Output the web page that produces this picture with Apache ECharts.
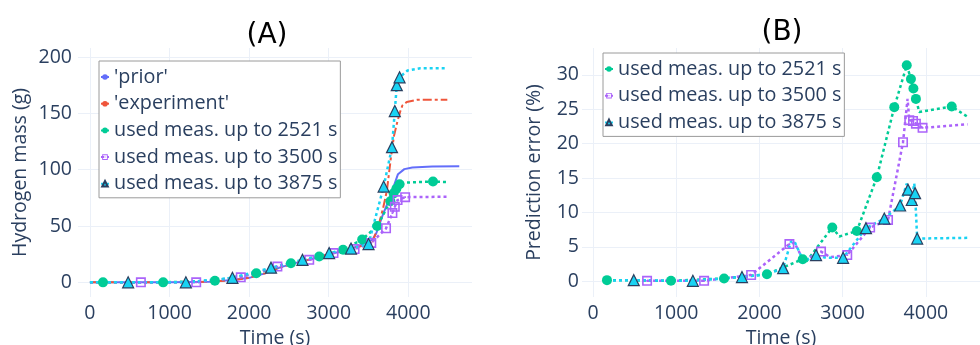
<!DOCTYPE html>
<html><head><meta charset="utf-8">
<script src="https://cdn.jsdelivr.net/npm/echarts@6/dist/echarts.min.js"></script>
<style>html,body{margin:0;padding:0;background:#fff}#c{width:980px;height:345px}</style>
</head><body><div id="c"></div>
<script>
// ---------- names ----------
const N_PRIOR = "'prior'";
const N_EXP = "'experiment'";
const N_G = "used meas. up to 2521 s";
const N_P = "used meas. up to 3500 s";
const N_C = "used meas. up to 3875 s";

// ---------- tick labels ----------
const xTicks = [0, 1000, 2000, 3000, 4000];
const yTicksA = [0, 50, 100, 150, 200];
const yTicksB = [0, 5, 10, 15, 20, 25, 30];

// ---------- chart (A): hydrogen mass (g) vs time (s) ----------
const A_prior_t = [0,500,1000,1500,1800,2000,2200,2400,2600,2800,3000,3200,3400,3500,3550,3600,3680,3750,3810,3870,3950,4050,4300,4640];
const A_prior_v = [0,0,0,0.5,2,4,8,13.5,17.5,21,25,28,33,36,38,44,60,72,84,96,100.5,102,102.8,103];

const A_exp_t = [0,500,1000,1500,1800,2000,2200,2400,2600,2800,3000,3200,3400,3500,3550,3620,3680,3730,3780,3820,3860,3900,3925,3980,4110,4490];
const A_exp_v = [0,0,0,0.5,2,4,8,13.5,17.5,21,25,28,32,34,36,49,65,81,110,130,142,152,157,160,162,162];

const A_g_t = [0,164,920,1570,2090,2525,2880,3180,3420,3610,3775,3815,3850,3890,3950,4310,4490];
const A_g_v = [0,0,0,1.5,8,17,23,29,38,50,72,79,83,87,88.5,89.5,89];
const A_g_m = [0,1,1,1,1,1,1,1,1,1,1,1,1,1,0,1,0];

const A_p_t = [0,640,1335,1895,2355,2755,3060,3325,3535,3720,3800,3830,3865,3960,4490];
const A_p_v = [0,0,0,4.5,14,20,26,29.5,35,48,61.5,67,73,75.6,76];
const A_p_m = [0,1,1,1,1,1,1,1,1,1,1,1,1,1,0];

const A_c_t = [0,480,1205,1790,2275,2670,3005,3280,3500,3690,3795,3830,3855,3890,3990,4150,4490];
const A_c_v = [0,0,0,4,13,20,26,30,34,85,120,152,175,182,188,190,190];
const A_c_m = [0,1,1,1,1,1,1,1,1,1,1,1,1,1,0,0,0];

// ---------- chart (B): prediction error (%) vs time (s) ----------
const B_g_t = [168,937,1575,2090,2520,2560,2875,2960,3170,3410,3620,3770,3820,3850,3880,3920,4310,4500];
const B_g_v = [0.15,0.05,0.4,1.0,3.2,2.8,7.8,6.5,7.3,15.1,25.3,31.4,29.4,28.0,26.5,24.6,25.4,23.9];
const B_g_m = [1,1,1,1,1,0,1,0,1,1,1,1,1,1,1,0,1,0];

const B_p_t = [650,1335,1900,2360,2420,2530,2740,2850,3055,3330,3545,3725,3780,3800,3845,3880,3960,4500];
const B_p_v = [0.05,0.05,0.9,5.4,5.6,3.0,4.3,3.5,3.8,7.8,8.9,20.2,26.5,23.4,23.3,22.9,22.3,22.8];
const B_p_m = [1,1,1,1,0,0,1,0,1,1,1,1,0,1,1,1,1,0];

const B_c_t = [168,490,1200,1790,2090,2285,2380,2420,2530,2680,2800,3005,3280,3500,3690,3770,3785,3830,3860,3870,3895,4500];
const B_c_v = [0.1,0.15,0.05,0.6,1.0,1.9,5.8,5.8,2.9,3.8,3.4,3.4,7.7,9.1,11.0,14.2,13.3,11.8,14.2,12.8,6.2,6.3];
const B_c_m = [0,1,1,1,0,1,0,0,0,1,0,1,1,1,1,0,1,1,0,1,1,0];

// ---------- style ----------
const TXT = '#2a3f5f';
const FONT = 'Open Sans';
const GRID = '#ebf0f8';
const C_BLUE = '#636efa', C_RED = '#ef553b', C_GREEN = '#00cc96', C_PURPLE = '#ab63fa', C_CYAN = '#19d3f3';
const SQ = 'path://M0,0H10V10H0Z M1.6,1.6V8.4H8.4V1.6Z M4.1,4.1H5.9V5.9H4.1Z';

function pts(t, v, m) {
  return t.map((x, i) => (m && !m[i]) ? { value: [x, v[i]], symbol: 'none' } : [x, v[i]]);
}
function lineS(name, gi, data, color, type, width) {
  return { name, type: 'line', xAxisIndex: gi, yAxisIndex: gi, data, symbol: 'none',
    lineStyle: { color, type, width }, itemStyle: { color }, animation: false };
}
function markS(name, gi, data, color, symbol, size, itemStyle) {
  return { name, type: 'line', xAxisIndex: gi, yAxisIndex: gi, data, symbol, symbolSize: size,
    showSymbol: true, lineStyle: { color, type: [3, 3], width: 2.5 },
    itemStyle: Object.assign({ color }, itemStyle || {}), animation: false };
}
const triStyle = { color: C_CYAN, borderColor: TXT, borderWidth: 1.2 };
const fmt = v => String(v);

function xAx(gi, min, max) {
  return { gridIndex: gi, type: 'value', min, max, name: 'Time (s)', nameLocation: 'middle', nameGap: 31,
    nameTextStyle: { fontSize: 19.5, color: TXT, fontFamily: FONT },
    axisLine: { show: false }, axisTick: { show: false, customValues: xTicks },
    axisLabel: { customValues: xTicks, fontSize: 19.5, color: TXT, fontFamily: FONT, margin: 6, formatter: fmt },
    splitLine: { show: true, lineStyle: { color: GRID, width: 1 } } };
}
function yAx(gi, min, max, ticks, name, gap, margin) {
  return { gridIndex: gi, type: 'value', min, max, name, nameLocation: 'middle', nameGap: gap,
    nameTextStyle: { fontSize: 19.5, color: TXT, fontFamily: FONT },
    axisLine: { show: false }, axisTick: { show: false, customValues: ticks },
    axisLabel: { customValues: ticks, fontSize: 19.5, color: TXT, fontFamily: FONT, margin, formatter: fmt },
    splitLine: { show: true, lineStyle: { color: GRID, width: 1 } } };
}
const legText = { fontSize: 19.8, color: TXT, fontFamily: FONT };
const titleStyle = { fontSize: 28, fontWeight: 'normal', color: '#000', fontFamily: 'DejaVu Sans' };

const option = {
  backgroundColor: '#fff',
  animation: false,
  title: [
    { text: '(A)', left: 262, top: 17, textAlign: 'center', textStyle: titleStyle },
    { text: '(B)', left: 777, top: 14, textAlign: 'center', textStyle: titleStyle }
  ],
  grid: [
    { left: 78, right: 508, top: 48, bottom: 48, containLabel: false, outerBoundsMode: 'none' },
    { left: 582, right: 0, top: 48, bottom: 48, containLabel: false, outerBoundsMode: 'none' }
  ],
  legend: [
    { data: [N_PRIOR, N_EXP, N_G, N_P, N_C], orient: 'vertical', left: 99, top: 61,
      backgroundColor: '#fff', borderColor: '#9a9a9a', borderWidth: 1, padding: [6, 3, 4, 1],
      itemGap: 6.7, itemWidth: 8, itemHeight: 7, textStyle: legText, selectedMode: false },
    { data: [N_G, N_P, N_C], orient: 'vertical', left: 603, top: 53,
      backgroundColor: '#fff', borderColor: '#9a9a9a', borderWidth: 1, padding: [6, 3, 4, 1],
      itemGap: 6.7, itemWidth: 8, itemHeight: 7, textStyle: legText, selectedMode: false }
  ],
  xAxis: [xAx(0, -150, 4800), xAx(1, -132, 4650)],
  yAxis: [yAx(0, -13, 208, yTicksA, 'Hydrogen mass (g)', 48, 6), yAx(1, -2.3, 33.9, yTicksB, 'Prediction error (%)', 38, 3)],
  series: [
    lineS(N_PRIOR, 0, pts(A_prior_t, A_prior_v), C_BLUE, 'solid', 2),
    lineS(N_EXP, 0, pts(A_exp_t, A_exp_v), C_RED, [9, 3, 3, 3], 2),
    markS(N_G, 0, pts(A_g_t, A_g_v, A_g_m), C_GREEN, 'circle', 10),
    markS(N_P, 0, pts(A_p_t, A_p_v, A_p_m), C_PURPLE, SQ, 10),
    markS(N_C, 0, pts(A_c_t, A_c_v, A_c_m), C_CYAN, 'triangle', 11, triStyle),
    markS(N_G, 1, pts(B_g_t, B_g_v, B_g_m), C_GREEN, 'circle', 10),
    markS(N_P, 1, pts(B_p_t, B_p_v, B_p_m), C_PURPLE, SQ, 10),
    markS(N_C, 1, pts(B_c_t, B_c_v, B_c_m), C_CYAN, 'triangle', 11, triStyle)
  ]
};
const chart = echarts.init(document.getElementById('c'), null, { renderer: 'canvas' });
chart.setOption(option);
</script>
</body></html>
